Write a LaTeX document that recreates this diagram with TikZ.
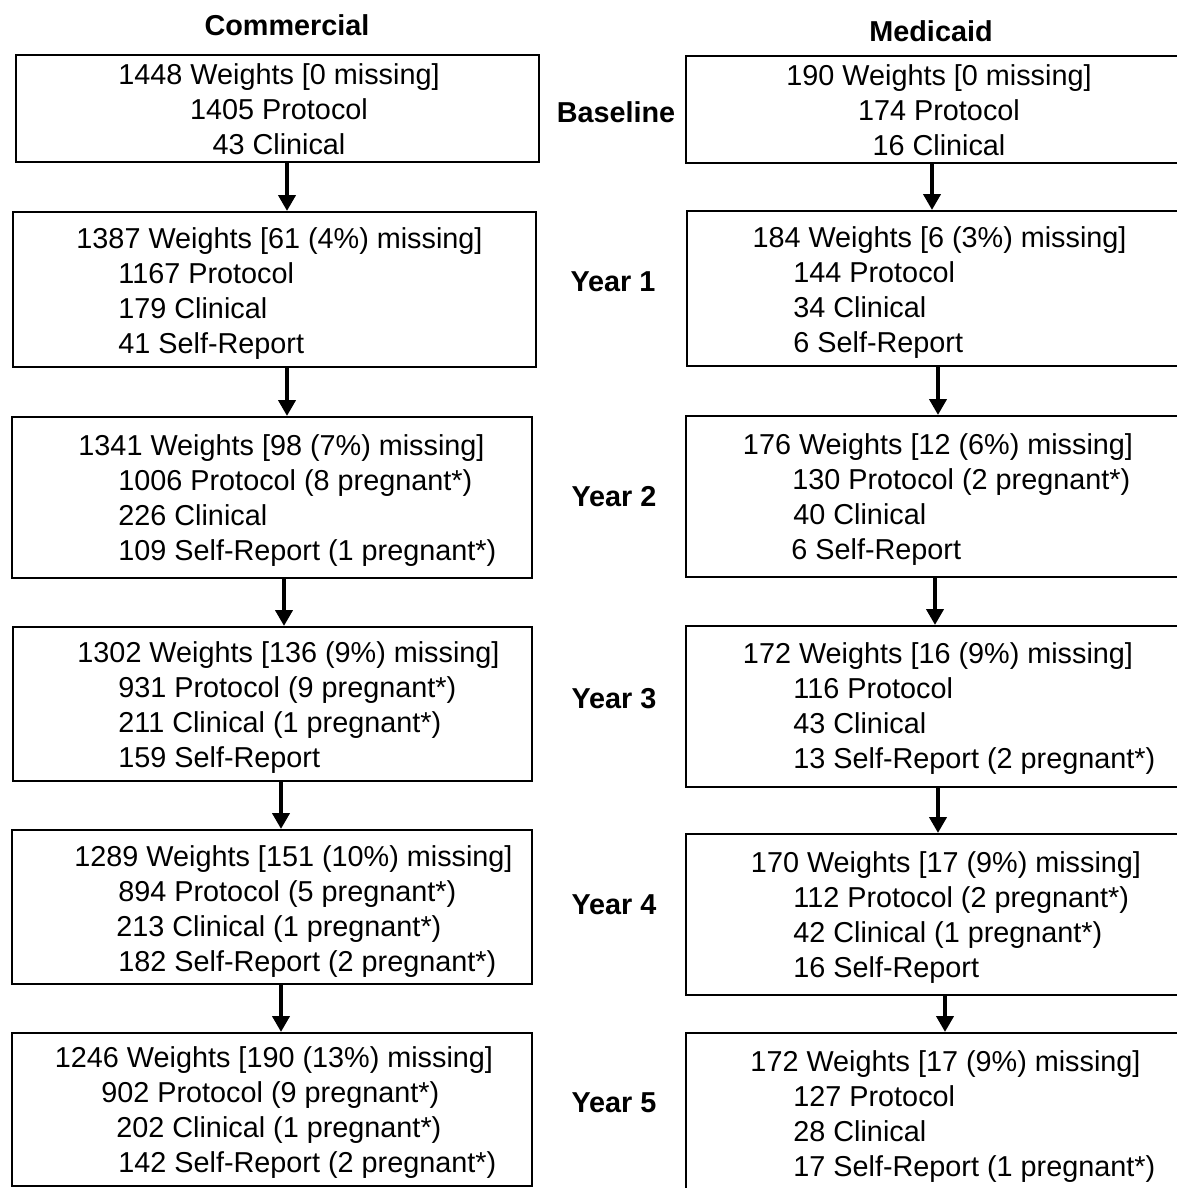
\documentclass[tikz,border=0pt]{standalone}
\usepackage{fontspec}
\setmainfont{Liberation Sans}
\usetikzlibrary{arrows.meta,positioning,fit}

\tikzset{
  box/.style={draw, line width=1pt, inner sep=0pt},
  txt/.style={font=\fontsize{14.4}{17.5}\selectfont, inner sep=0pt},
  hdr/.style={txt, anchor=base},
  itm/.style={txt, anchor=base west},
  lbl/.style={font=\bfseries\fontsize{14.4}{17.5}\selectfont, inner sep=0pt},
  flow/.style={-{Triangle[width=8.5pt,length=8pt]}, line width=2pt},
}

\begin{document}
\begin{tikzpicture}[x=0.5pt,y=-0.5pt]
  \useasboundingbox (0,0) rectangle (1177,1188);
  \clip (0,0) rectangle (1177,1188);

  % column titles and row labels
  \node[lbl] (com) at (287,25) {Commercial};
  \node[lbl] (med) at (931,31) {Medicaid};
  \node[lbl] (yr0) at (616,112) {Baseline};
  \node[lbl] (yr1) at (613,282) {Year 1};
  \node[lbl] (yr2) at (614,497) {Year 2};
  \node[lbl] (yr3) at (614,699) {Year 3};
  \node[lbl] (yr4) at (614,905) {Year 4};
  \node[lbl] (yr5) at (614,1103) {Year 5};

  % boxes
  \node[box, fit={(16,55) (539,162)}] (c0) {};
  \node[box, fit={(13,212) (536,367)}] (c1) {};
  \node[box, fit={(12,417) (532,578)}] (c2) {};
  \node[box, fit={(13,627) (532,781)}] (c3) {};
  \node[box, fit={(12,830) (532,984)}] (c4) {};
  \node[box, fit={(12,1033) (532,1186)}] (c5) {};
  \node[box, fit={(686,56) (1190,163)}] (m0) {};
  \node[box, fit={(687,211) (1190,366)}] (m1) {};
  \node[box, fit={(686,416) (1190,577)}] (m2) {};
  \node[box, fit={(686,626) (1190,787)}] (m3) {};
  \node[box, fit={(686,834) (1190,995)}] (m4) {};
  \node[box, fit={(686,1033) (1190,1196)}] (m5) {};

  % commercial
  \foreach \txt [count=\i] in {1448 Weights [0 missing], 1405 Protocol, 43 Clinical}
    \node[hdr] (c0-\i) at (279,49.5+35*\i) {\txt};

  \node[hdr] (c1-0) at (279.5,248) {1387 Weights [61 (4\%) missing]};
  \foreach \x/\txt [count=\i] in {118/1167 Protocol, 118/179 Clinical, 118/41 Self-Report}
    \node[itm] (c1-\i) at (\x,248+35*\i) {\txt};

  \node[hdr] (c2-0) at (281.5,455.5) {1341 Weights [98 (7\%) missing]};
  \foreach \x/\txt [count=\i] in {118/1006 Protocol (8 pregnant*), 118/226 Clinical,
      118/109 Self-Report (1 pregnant*)}
    \node[itm] (c2-\i) at (\x,455.5+35*\i) {\txt};

  \node[hdr] (c3-0) at (288.5,662.5) {1302 Weights [136 (9\%) missing]};
  \foreach \x/\txt [count=\i] in {118/931 Protocol (9 pregnant*), 118/211 Clinical (1 pregnant*),
      118/159 Self-Report}
    \node[itm] (c3-\i) at (\x,662.5+35*\i) {\txt};

  \node[hdr] (c4-0) at (293.5,866.5) {1289 Weights [151 (10\%) missing]};
  \foreach \x/\txt [count=\i] in {118/894 Protocol (5 pregnant*), 116/213 Clinical (1 pregnant*),
      118/182 Self-Report (2 pregnant*)}
    \node[itm] (c4-\i) at (\x,866.5+35*\i) {\txt};

  \node[hdr] (c5-0) at (274,1067.5) {1246 Weights [190 (13\%) missing]};
  \foreach \x/\txt [count=\i] in {101/902 Protocol (9 pregnant*), 116/202 Clinical (1 pregnant*),
      118/142 Self-Report (2 pregnant*)}
    \node[itm] (c5-\i) at (\x,1067.5+35*\i) {\txt};

  % medicaid
  \foreach \txt [count=\i] in {190 Weights [0 missing], 174 Protocol, 16 Clinical}
    \node[hdr] (m0-\i) at (939,50.5+35*\i) {\txt};

  \node[hdr] (m1-0) at (939.5,247.5) {184 Weights [6 (3\%) missing]};
  \foreach \x/\txt [count=\i] in {793/144 Protocol, 793/34 Clinical, 793/6 Self-Report}
    \node[itm] (m1-\i) at (\x,247.5+35*\i) {\txt};

  \node[hdr] (m2-0) at (938,454.5) {176 Weights [12 (6\%) missing]};
  \foreach \x/\txt [count=\i] in {792/130 Protocol (2 pregnant*), 793/40 Clinical, 791/6 Self-Report}
    \node[itm] (m2-\i) at (\x,454.5+35*\i) {\txt};

  \node[hdr] (m3-0) at (938,663.5) {172 Weights [16 (9\%) missing]};
  \foreach \x/\txt [count=\i] in {793/116 Protocol, 793/43 Clinical, 793/13 Self-Report (2 pregnant*)}
    \node[itm] (m3-\i) at (\x,663.5+35*\i) {\txt};

  \node[hdr] (m4-0) at (946,872.5) {170 Weights [17 (9\%) missing]};
  \foreach \x/\txt [count=\i] in {793/112 Protocol (2 pregnant*), 793/42 Clinical (1 pregnant*),
      793/16 Self-Report}
    \node[itm] (m4-\i) at (\x,872.5+35*\i) {\txt};

  \node[hdr] (m5-0) at (945.5,1071.5) {172 Weights [17 (9\%) missing]};
  \foreach \x/\txt [count=\i] in {793/127 Protocol, 793/28 Clinical, 793/17 Self-Report (1 pregnant*)}
    \node[itm] (m5-\i) at (\x,1071.5+35*\i) {\txt};

  % arrows between the years
  \foreach \a/\b/\x in {c0/c1/287, c1/c2/287, c2/c3/284, c3/c4/281, c4/c5/281,
      m0/m1/932, m1/m2/938, m2/m3/935, m3/m4/938, m4/m5/945}
    \draw[flow] (\a.south -| \x,0) -- (\b.north -| \x,0);
\end{tikzpicture}
\end{document}
